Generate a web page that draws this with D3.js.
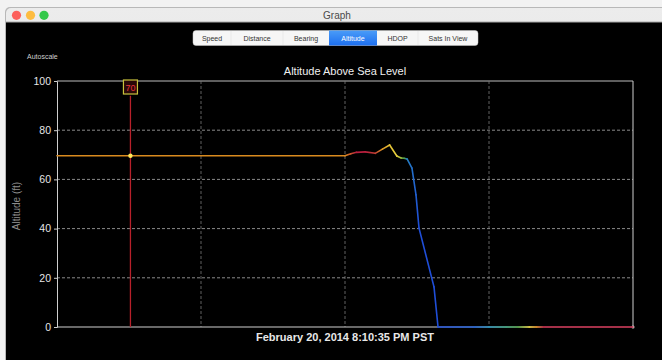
<!doctype html>
<meta charset="utf-8">
<script src="https://d3js.org/d3.v7.min.js"></script>
<style>
body { margin: 0; background: #f2f2f2; font-family: "Liberation Sans", Arial, sans-serif; }
svg { display: block; }
</style>
<body>
<script>

// track data: seconds since start, altitude (ft), speed class used for colouring
var times    = [0, 200, 204, 208, 214, 221, 226, 231, 236, 239, 241, 243.1, 246.5, 249.3, 251.4, 261.8, 264.6, 290, 300, 312, 320, 328, 333, 338, 400];
var altitude = [69.6, 69.6, 70.4, 71.0, 71.2, 70.6, 72.3, 74.0, 69.5, 68.7, 68.6, 68.3, 64.6, 53.7, 40.2, 16.3, 0, 0, 0, 0, 0, 0, 0, 0, 0];
var speed    = [4, 4, 4.5, 5, 5, 4.7, 3.8, 3.2, 3, 2.5, 2, 0.6, 0.4, 0.2, 0, 0, 0, 0.2, 0.8, 1.5, 2, 3, 4, 5, 5];

var yTicks = [0, 20, 40, 60, 80, 100];
var xGrid = [100, 200, 300];
var tabs = ["Speed", "Distance", "Bearing", "Altitude", "HDOP", "Sats In View"];
var tabEdges = [193, 231, 283, 329, 377, 418, 478];
var cursorTime = 51;
var cursorValue = 70;

var W = 662, H = 360;
var margin = {top: 81, right: 29, bottom: 33, left: 57};

var x = d3.scaleLinear().domain([0, 400]).range([margin.left, W - margin.right]);
var y = d3.scaleLinear().domain([0, 100]).range([H - margin.bottom, margin.top]);
var colour = d3.scaleLinear()
    .domain([0, 1, 2, 3, 4, 5])
    .range(["#1f4ed8", "#2aa3b4", "#4ea046", "#e6cf3c", "#d98a1e", "#b81e3e"]);

var svg = d3.select("body").append("svg").attr("width", W).attr("height", H);
var defs = svg.append("defs");

// window frame
var tg = defs.append("linearGradient").attr("id", "titlebar").attr("x1", 0).attr("y1", 0).attr("x2", 0).attr("y2", 1);
tg.append("stop").attr("offset", 0).attr("stop-color", "#ececec");
tg.append("stop").attr("offset", 1).attr("stop-color", "#d4d4d4");

svg.append("rect").attr("x", 5).attr("y", 7).attr("width", 700).attr("height", 400).attr("rx", 5).attr("fill", "#b8b8b8");
svg.append("rect").attr("x", 6).attr("y", 8).attr("width", 700).attr("height", 400).attr("rx", 5).attr("fill", "url(#titlebar)");
svg.append("rect").attr("x", 6).attr("y", 22).attr("width", 700).attr("height", 400).attr("fill", "#000");
svg.append("line").attr("x1", 6).attr("x2", W).attr("y1", 22).attr("y2", 22).attr("stroke", "#a8a8a8");

[["#fc605c", 16.5], ["#fdbc40", 30.5], ["#34c84a", 44]].forEach(function(d) {
  svg.append("circle").attr("cx", d[1]).attr("cy", 15.3).attr("r", 4.6).attr("fill", d[0]);
});
svg.append("text").attr("x", 337).attr("y", 18.5).attr("text-anchor", "middle")
    .attr("font-size", 10).attr("fill", "#4a4a4a").text("Graph");

// segmented control
var seg = svg.append("g");
seg.append("rect").attr("x", tabEdges[0]).attr("y", 30.5).attr("width", tabEdges[6] - tabEdges[0]).attr("height", 15)
    .attr("rx", 3).attr("fill", "#f6f6f6").attr("stroke", "#c8c8c8").attr("stroke-width", 0.5);
var bg = defs.append("linearGradient").attr("id", "seltab").attr("x1", 0).attr("y1", 0).attr("x2", 0).attr("y2", 1);
bg.append("stop").attr("offset", 0).attr("stop-color", "#4a9cf8");
bg.append("stop").attr("offset", 1).attr("stop-color", "#1d6ff0");
tabs.forEach(function(t, i) {
  var x0 = tabEdges[i], x1 = tabEdges[i + 1];
  if (t == "Altitude") {
    seg.append("rect").attr("x", x0).attr("y", 30.5).attr("width", x1 - x0).attr("height", 15).attr("fill", "url(#seltab)");
  } else if (i > 0 && tabs[i - 1] != "Altitude") {
    seg.append("line").attr("x1", x0).attr("x2", x0).attr("y1", 31).attr("y2", 45).attr("stroke", "#dcdcdc").attr("stroke-width", 0.5);
  }
  seg.append("text").attr("x", (x0 + x1) / 2).attr("y", 41).attr("text-anchor", "middle")
      .attr("font-size", 7).attr("fill", t == "Altitude" ? "#fff" : "#333").text(t);
});

svg.append("text").attr("x", 27).attr("y", 59).attr("font-size", 7).attr("fill", "#cfcfcf").text("Autoscale");

// title
svg.append("text").attr("x", 345).attr("y", 75).attr("text-anchor", "middle")
    .attr("font-size", 11).attr("fill", "#f0f0f0").text("Altitude Above Sea Level");

// grid
var grid = svg.append("g");
yTicks.forEach(function(v) {
  if (v == 0) return;
  grid.append("line").attr("x1", x(0)).attr("x2", x(400)).attr("y1", y(v)).attr("y2", y(v))
      .attr("stroke", v == 100 ? "#bdbdbd" : "#8a8a8a").attr("stroke-width", 1)
      .attr("stroke-dasharray", v == 100 ? null : "3,2");
});
xGrid.forEach(function(v) {
  grid.append("line").attr("x1", x(v)).attr("x2", x(v)).attr("y1", y(100)).attr("y2", y(0))
      .attr("stroke", "#7a7a7a").attr("stroke-width", 0.8).attr("stroke-dasharray", "3,2");
});

// axes
var yAxis = svg.append("g").attr("transform", "translate(" + margin.left + ",0)")
    .call(d3.axisLeft(y).tickValues(yTicks).tickSize(3).tickPadding(3));
yAxis.select(".domain").attr("stroke", "#cfcfcf");
yAxis.selectAll(".tick line").attr("stroke", "#cfcfcf");
yAxis.selectAll(".tick text").attr("fill", "#e6e6e6").attr("font-size", 10.5)
    .attr("font-family", "Liberation Sans, Arial, sans-serif");

svg.append("line").attr("x1", x(400)).attr("x2", x(400)).attr("y1", y(100)).attr("y2", y(0)).attr("stroke", "#cfcfcf");
svg.append("line").attr("x1", x(0)).attr("x2", x(400)).attr("y1", y(0)).attr("y2", y(0)).attr("stroke", "#cfcfcf").attr("stroke-width", 1.2);
svg.append("circle").attr("cx", x(400)).attr("cy", y(0)).attr("r", 1.5).attr("fill", "#ddd");

svg.append("text").attr("transform", "translate(20,206) rotate(-90)").attr("text-anchor", "middle")
    .attr("font-size", 10).attr("fill", "#8c8c8c").text("Altitude (ft)");

svg.append("text").attr("x", 345).attr("y", 341).attr("text-anchor", "middle")
    .attr("font-size", 11).attr("font-weight", "bold").attr("fill", "#e8e8e8")
    .text("February 20, 2014 8:10:35 PM PST");

// cursor
svg.append("line").attr("x1", x(cursorTime)).attr("x2", x(cursorTime)).attr("y1", y(94)).attr("y2", y(0))
    .attr("stroke", "#b8202a").attr("stroke-width", 1.3);

// coloured track, one gradient per segment
var line = svg.append("g");
for (var i = 0; i < times.length - 1; i++) {
  var id = "seg" + i;
  var g = defs.append("linearGradient").attr("id", id).attr("gradientUnits", "userSpaceOnUse")
      .attr("x1", x(times[i])).attr("y1", y(altitude[i])).attr("x2", x(times[i + 1])).attr("y2", y(altitude[i + 1]) + 0.01);
  g.append("stop").attr("offset", 0).attr("stop-color", colour(speed[i]));
  g.append("stop").attr("offset", 1).attr("stop-color", colour(speed[i + 1]));
  line.append("line")
      .attr("x1", x(times[i])).attr("y1", y(altitude[i]))
      .attr("x2", x(times[i + 1])).attr("y2", y(altitude[i + 1]))
      .attr("stroke", "url(#" + id + ")").attr("stroke-width", 1.6).attr("stroke-linecap", "round");
}

svg.append("circle").attr("cx", x(cursorTime)).attr("cy", y(69.6)).attr("r", 2.2).attr("fill", "#ffe85a");

var box = svg.append("g");
box.append("rect").attr("x", x(cursorTime) - 7).attr("y", 80).attr("width", 14).attr("height", 14)
    .attr("fill", "#2a0808").attr("stroke", "#c9c23c").attr("stroke-width", 1.2);
box.append("text").attr("x", x(cursorTime)).attr("y", 90.5).attr("text-anchor", "middle")
    .attr("font-size", 9).attr("fill", "#e8353a").text(cursorValue);

</script>
</body>
